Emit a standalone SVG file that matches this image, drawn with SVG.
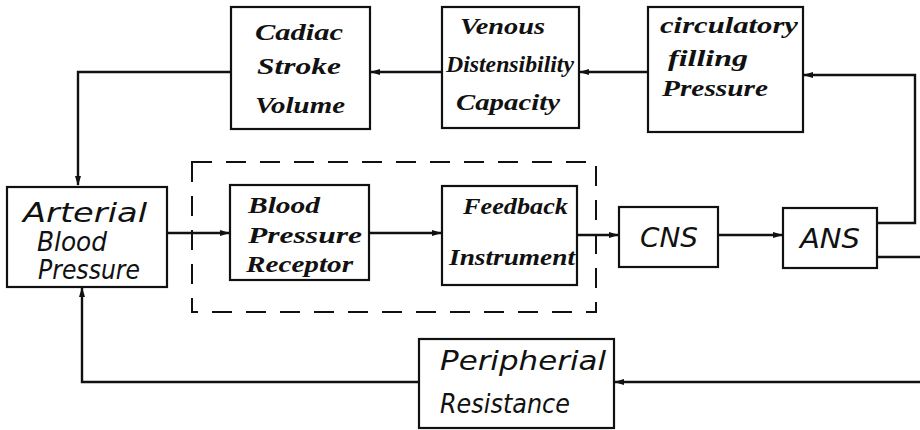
<svg xmlns="http://www.w3.org/2000/svg" width="920" height="430" viewBox="0 0 920 430">
<style>
.box{fill:#fff;stroke:#111;stroke-width:2.2}
.ln{fill:none;stroke:#111;stroke-width:2.4}
.dash{fill:none;stroke:#111;stroke-width:2;stroke-dasharray:20 14}
text{font-family:"Liberation Serif",serif;font-style:italic;font-weight:bold;fill:#111}
.t{font-size:24px}
.b{font-size:27px;font-weight:normal;font-family:"DejaVu Sans","Liberation Sans",sans-serif}
</style>
<defs>
<marker id="ah" markerWidth="10" markerHeight="8" refX="9" refY="4" orient="auto" markerUnits="userSpaceOnUse">
<path d="M0,1 L10,4 L0,7 Z" fill="#111"/>
</marker>
</defs>
<rect width="920" height="430" fill="#fff"/>
<g id="connectors">
<path class="ln" d="M231,72 H78 V185" marker-end="url(#ah)"/>
<path class="ln" d="M442,72 H371" marker-end="url(#ah)"/>
<path class="ln" d="M648,72 H580" marker-end="url(#ah)"/>
<path class="ln" d="M877,223 H915 V75 H804" marker-end="url(#ah)"/>
<path class="ln" d="M167,233 H229" marker-end="url(#ah)"/>
<path class="ln" d="M369,233 H441" marker-end="url(#ah)"/>
<path class="ln" d="M577,235 H618" marker-end="url(#ah)"/>
<path class="ln" d="M718,235 H782" marker-end="url(#ah)"/>
<path class="ln" d="M877,257 H930 V382 H615" marker-end="url(#ah)"/>
<path class="ln" d="M419,382 H82 V288" marker-end="url(#ah)"/>
</g>
<g id="dashed-group">
<rect class="dash" x="192" y="162" width="404" height="150"/>
</g>
<g id="cardiac">
<rect class="box" x="231" y="7" width="139" height="122"/>
<text class="t" x="255" y="40" textLength="88" lengthAdjust="spacingAndGlyphs">Cadiac</text>
<text class="t" x="257" y="74" textLength="84" lengthAdjust="spacingAndGlyphs">Stroke</text>
<text class="t" x="255" y="113" textLength="90" lengthAdjust="spacingAndGlyphs">Volume</text>
</g>
<g id="venous">
<rect class="box" x="442" y="7" width="137" height="121"/>
<text class="t" x="460" y="34" textLength="85" lengthAdjust="spacingAndGlyphs">Venous</text>
<text class="t" x="446" y="72" textLength="128" lengthAdjust="spacingAndGlyphs">Distensibility</text>
<text class="t" x="456" y="110" textLength="104" lengthAdjust="spacingAndGlyphs">Capacity</text>
</g>
<g id="circulatory">
<rect class="box" x="648" y="7" width="155" height="125"/>
<text class="t" x="660" y="33" textLength="138" lengthAdjust="spacingAndGlyphs">circulatory</text>
<text class="t" x="668" y="66" textLength="80" lengthAdjust="spacingAndGlyphs">filling</text>
<text class="t" x="662" y="96" textLength="106" lengthAdjust="spacingAndGlyphs">Pressure</text>
</g>
<g id="arterial">
<rect class="box" x="7" y="187" width="160" height="100"/>
<text class="b" x="23" y="222" textLength="124" lengthAdjust="spacingAndGlyphs">Arterial</text>
<text class="b" x="37" y="251" textLength="70" lengthAdjust="spacingAndGlyphs">Blood</text>
<text class="b" x="38" y="279" textLength="102" lengthAdjust="spacingAndGlyphs">Pressure</text>
</g>
<g id="receptor">
<rect class="box" x="230" y="185" width="139" height="95"/>
<text class="t" x="248" y="213" textLength="72" lengthAdjust="spacingAndGlyphs">Blood</text>
<text class="t" x="248" y="243" textLength="114" lengthAdjust="spacingAndGlyphs">Pressure</text>
<text class="t" x="246" y="272" textLength="107" lengthAdjust="spacingAndGlyphs">Receptor</text>
</g>
<g id="feedback">
<rect class="box" x="442" y="186" width="135" height="99"/>
<text class="t" x="463" y="214" textLength="105" lengthAdjust="spacingAndGlyphs">Feedback</text>
<text class="t" x="449" y="265" textLength="126" lengthAdjust="spacingAndGlyphs">Instrument</text>
</g>
<g id="cns">
<rect class="box" x="619" y="207" width="99" height="60"/>
<text class="b" x="640" y="247" textLength="58" lengthAdjust="spacingAndGlyphs">CNS</text>
</g>
<g id="ans">
<rect class="box" x="783" y="208" width="94" height="60"/>
<text class="b" x="800" y="248" textLength="60" lengthAdjust="spacingAndGlyphs">ANS</text>
</g>
<g id="peripheral">
<rect class="box" x="419" y="339" width="195" height="89"/>
<text class="b" x="440" y="370" textLength="166" lengthAdjust="spacingAndGlyphs">Peripherial</text>
<text class="b" x="440" y="413" textLength="130" lengthAdjust="spacingAndGlyphs">Resistance</text>
</g>
</svg>
